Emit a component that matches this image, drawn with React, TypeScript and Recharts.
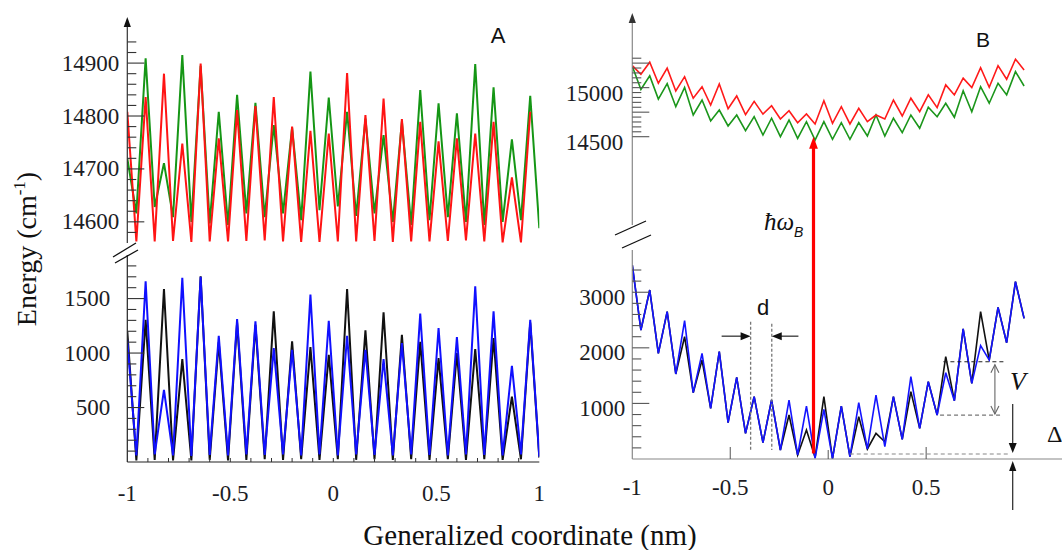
import React from "react";
import { LineChart, Line, XAxis, YAxis } from "recharts";

// generalized coordinate (nm), same grid in both panels
const coord = [
  -1, -0.956, -0.911, -0.867, -0.822, -0.778, -0.733, -0.689, -0.644, -0.6,
  -0.556, -0.511, -0.467, -0.422, -0.378, -0.333, -0.289, -0.244, -0.2, -0.156,
  -0.111, -0.067, -0.022, 0.022, 0.067, 0.111, 0.156, 0.2, 0.244, 0.289,
  0.333, 0.378, 0.422, 0.467, 0.511, 0.556, 0.6, 0.644, 0.689, 0.733,
  0.778, 0.822, 0.867, 0.911, 0.956, 1,
];

// panel A, excited states (cm-1)
const greenA = [
  14720, 14616, 14909, 14628, 14711, 14609, 14915, 14600, 14895, 14597,
  14808, 14594, 14840, 14616, 14825, 14609, 14783, 14616, 14778, 14603,
  14884, 14622, 14835, 14629, 14808, 14611, 14795, 14616, 14764, 14600,
  14790, 14594, 14849, 14603, 14824, 14609, 14805, 14600, 14898, 14594,
  14854, 14600, 14756, 14603, 14838, 14588,
];
const redA = [
  14808, 14563, 14836, 14563, 14880, 14564, 14748, 14562, 14899, 14563,
  14758, 14563, 14811, 14564, 14819, 14565, 14836, 14563, 14780, 14562,
  14772, 14562, 14767, 14563, 14881, 14563, 14802, 14564, 14833, 14562,
  14794, 14563, 14789, 14563, 14752, 14564, 14758, 14565, 14767, 14563,
  14789, 14561, 14684, 14561, 14808, null,
];
// panel A, ground states
const blackA = [
  1200, 15, 1306, 20, 1588, 15, 945, 15, 1705, 20,
  1100, 15, 1280, 20, 1260, 25, 1383, 20, 1107, 25,
  1055, 20, 984, 25, 1588, 20, 1208, 25, 1374, 20,
  1168, 25, 1104, 20, 954, 25, 1000, 20, 1037, 25,
  1138, 20, 601, 25, 1280, 40,
];
const blueA = [
  1122, 60, 1659, 70, 662, 60, 1690, 55, 1700, 65,
  1159, 60, 1312, 70, 1291, 65, 1046, 70, 1030, 60,
  1536, 70, 1297, 60, 1159, 70, 1030, 65, 945, 60,
  1092, 70, 1362, 65, 1230, 60, 1147, 70, 1613, 65,
  1383, 60, 883, 70, 1306, 49,
];

// panel B, excited states
const redB = [
  15224, 15137, 15259, 15045, 15198, 14966, 15112, 14892, 15010, 14823,
  15038, 14785, 14915, 14725, 14860, 14730, 14815, 14680, 14765, 14642,
  14732, 14630, 14867, 14637, 14806, 14630, 14790, 14653, 14721, 14680,
  14874, 14711, 14892, 14755, 14926, 14796, 15028, 14926, 15096, 15000,
  15204, 15004, 15224, 15086, 15290, 15181,
];
const greenB = [
  15219, 14982, 15120, 14883, 15040, 14806, 15002, 14721, 14874, 14661,
  14772, 14609, 14721, 14561, 14704, 14517, 14688, 14500, 14670, 14483,
  14653, 14466, 14653, 14473, 14643, 14473, 14643, 14507, 14721, 14507,
  14688, 14541, 14721, 14586, 14800, 14704, 14841, 14698, 14969, 14755,
  15010, 14841, 15045, 14926, 15163, 15017,
];
// panel B, ground states
const blackB = [
  3489, 2320, 3040, 1901, 2650, 1529, 2200, 1193, 1780, 911,
  1930, 653, 1469, 462, 1121, 293, 1061, 162, 791, 72,
  522, 30, 1121, 5, 953, 42, 761, 180, 462, 311,
  1121, 354, 1211, 552, 1391, 791, 1840, 1049, 2340, 1361,
  2650, 1780, 2728, 2092, 3189, 2530,
];
const blueB = [
  3489, 2320, 3040, 1901, 2650, 1529, 2488, 1193, 1901, 911,
  1930, 653, 1469, 462, 1121, 293, 1061, 162, 1061, 72,
  953, 12, 893, 5, 953, 42, 1013, 180, 1151, 221,
  1121, 354, 1480, 552, 1391, 791, 1552, 1049, 2340, 1361,
  2040, 1780, 2728, 2092, 3189, 2530,
];

// axis ticks
const ticksATop = [14580, 14600, 14620, 14640, 14660, 14680, 14700, 14720, 14740, 14760, 14780, 14800, 14820, 14840, 14860, 14880, 14900, 14920, 14940];
const ticksABot = [100, 200, 300, 400, 500, 600, 700, 800, 900, 1000, 1100, 1200, 1300, 1400, 1500, 1600, 1700, 1800];
const ticksBTop = [14500, 14550, 14600, 14650, 14700, 14750, 14800, 14850, 14900, 14950, 15000, 15050, 15100, 15150, 15200, 15250, 15300];
const ticksBBot = [200, 400, 600, 800, 1000, 1200, 1400, 1600, 1800, 2000, 2200, 2400, 2600, 2800, 3000, 3200, 3400];
const ticksXA = [-1, -0.9, -0.8, -0.7, -0.6, -0.5, -0.4, -0.3, -0.2, -0.1, 0, 0.1, 0.2, 0.3, 0.4, 0.5, 0.6, 0.7, 0.8, 0.9, 1];
const ticksXB = [-1, -0.5, 0, 0.5];
const labelsXA = [-1, -0.5, 0, 0.5, 1];

const W = 1062;
const H = 550;
const SERIF = "'Liberation Serif', 'Times New Roman', serif";
const SANS = "'Liberation Sans', Arial, sans-serif";

// plot boxes (pixels) and their domains
const AX = { x0: 127.3, x1: 539.3, dom: [-1, 1] };
const ATOP = { y0: 25, y1: 243, dom: [14560, 14972] };
const ABOT = { y0: 255, y1: 462, dom: [0, 1900] };
const BX = { x0: 632.3, x1: 1062, dom: [-1, 1.1935] };
const BTOP = { y0: 17, y1: 225, dom: [13600, 15720] };
const BBOT = { y0: 250, y1: 459, dom: [0, 3760] };

const px = (b: any, v: number) => b.x0 + ((v - b.dom[0]) / (b.dom[1] - b.dom[0])) * (b.x1 - b.x0);
const py = (b: any, v: number) => b.y1 - ((v - b.dom[0]) / (b.dom[1] - b.dom[0])) * (b.y1 - b.y0);

function yTick(major: number[], labels: number[], gap: number, dy: number, color: string) {
  return (p: any) => {
    const v = p.payload.value;
    const big = major.includes(v);
    return (
      <g>
        <line x1={p.x} y1={p.y} x2={p.x + (big ? 17 : 9)} y2={p.y} stroke={color} strokeWidth={1.1} />
        {labels.includes(v) ? (
          <text x={p.x - gap} y={p.y + dy} textAnchor="end" dominantBaseline="central" fontFamily={SERIF} fontSize={23} fill="#1c1c24">
            {v}
          </text>
        ) : null}
      </g>
    );
  };
}

const xTickA = (p: any) => {
  const v = p.payload.value;
  return (
    <g>
      {Math.abs(v) < 1 ? <line x1={p.x} x2={p.x} y1={p.y} y2={p.y - 4} stroke="#333" strokeWidth={1} /> : null}
      {labelsXA.includes(v) ? (
        <text x={p.x} y={p.y + 31} textAnchor="middle" dominantBaseline="central" fontFamily={SERIF} fontSize={23} fill="#1c1c24">
          {v}
        </text>
      ) : null}
    </g>
  );
};

const xTickB = (p: any) => {
  const v = p.payload.value;
  const len = v === 0 ? 9 : v === -1 ? 0 : 12;
  return (
    <g>
      {len ? <line x1={p.x} x2={p.x} y1={p.y} y2={p.y - len} stroke="#555" strokeWidth={1} /> : null}
      <text x={p.x} y={p.y + 28} textAnchor="middle" dominantBaseline="central" fontFamily={SERIF} fontSize={23} fill="#1c1c24">
        {v}
      </text>
    </g>
  );
};

// one plot part; axes get 1px of room so recharts draws them
function Part({ xb, yb, s1, s2, c1, c2, w, ticks, tick, axisColor, xTicks, xTick }: any) {
  const data = coord.map((x, i) => ({ x, a: s1[i], b: s2[i] }));
  const xh = xTick ? 1 : 0;
  return (
    <div style={{ position: "absolute", left: 0, top: 0 }}>
      <LineChart
        width={W}
        height={H}
        data={data}
        margin={{ left: xb.x0 - 1, right: W - xb.x1, top: yb.y0, bottom: H - yb.y1 - xh }}
      >
        <XAxis
          type="number"
          dataKey="x"
          domain={xb.dom}
          allowDataOverflow
          hide={!xTick}
          height={1}
          ticks={xTicks}
          interval={0}
          tickSize={0}
          tickMargin={0}
          tickLine={false}
          axisLine={{ stroke: axisColor, strokeWidth: 1.2 }}
          tick={xTick}
        />
        <YAxis
          type="number"
          domain={yb.dom}
          allowDataOverflow
          width={1}
          ticks={ticks}
          interval={0}
          tickSize={0}
          tickMargin={0}
          tickLine={false}
          axisLine={{ stroke: axisColor, strokeWidth: 1.2 }}
          tick={tick}
        />
        <Line type="linear" dataKey="a" stroke={c1} strokeWidth={w} dot={false} isAnimationActive={false} />
        <Line type="linear" dataKey="b" stroke={c2} strokeWidth={w} dot={false} isAnimationActive={false} />
      </LineChart>
    </div>
  );
}

const upHead = (x: number, y: number, s = 1) => `${x},${y} ${x - 4 * s},${y + 11 * s} ${x + 4 * s},${y + 11 * s}`;
const downHead = (x: number, y: number) => `${x},${y} ${x - 4},${y - 10} ${x + 4},${y - 10}`;

function Notes() {
  const ax = AX.x0;
  const bx = BX.x0;
  // red excitation arrow
  const rx = px(BX, -0.075);
  const rTop = py(BTOP, 14500);
  const rBot = py(BBOT, 100);
  // d markers
  const d1 = px(BX, -0.396);
  const d2 = px(BX, -0.288);
  const dTop = py(BBOT, 2470);
  const dBot = py(BBOT, 160);
  const dY = py(BBOT, 2210);
  // V markers
  const vUp = py(BBOT, 1750);
  const vLo = py(BBOT, 790);
  const vx = px(BX, 0.851);
  // Delta markers
  const dl = py(BBOT, 90);
  const gx = px(BX, 0.942);
  return (
    <svg width={W} height={H} style={{ position: "absolute", left: 0, top: 0 }}>
      {/* axis arrows */}
      <polygon points={upHead(ax, 17, 0.9)} fill="#111" />
      <polygon points={upHead(bx, 13, 0.9)} fill="#333" />
      {/* axis breaks */}
      <line x1={113} y1={257} x2={136} y2={243} stroke="#111" strokeWidth={1.3} />
      <line x1={115} y1={263} x2={138} y2={250} stroke="#111" strokeWidth={1.3} />
      <line x1={615} y1={235} x2={646} y2={221} stroke="#111" strokeWidth={1.3} />
      <line x1={622} y1={248} x2={651} y2={235} stroke="#111" strokeWidth={1.3} />

      {/* titles */}
      <text transform="translate(36,249) rotate(-90)" textAnchor="middle" fontFamily={SERIF} fontSize={28} fill="#111">
        Energy (cm<tspan dy={-11} fontSize={17}>-1</tspan><tspan dy={11}>)</tspan>
      </text>
      <text x={530} y={545} textAnchor="middle" fontFamily={SERIF} fontSize={29} fill="#111">
        Generalized coordinate (nm)
      </text>
      <text x={498} y={43} textAnchor="middle" fontFamily={SANS} fontSize={22} fill="#111">A</text>
      <text x={983} y={47} textAnchor="middle" fontFamily={SANS} fontSize={21} fill="#111">B</text>

      {/* excitation arrow */}
      <line x1={rx} x2={rx} y1={rBot} y2={rTop + 9} stroke="#ff0000" strokeWidth={3.2} />
      <polygon points={upHead(rx, rTop, 1.1)} fill="#ff0000" />
      <text x={764} y={230} fontFamily={SERIF} fontStyle="italic" fontSize={25} fill="#111">ħω</text>
      <text x={794} y={237} fontFamily={SANS} fontStyle="italic" fontSize={14} fill="#111">B</text>

      {/* d */}
      <line x1={d1} x2={d1} y1={dTop} y2={dBot} stroke="#777" strokeWidth={1.3} strokeDasharray="3 2" />
      <line x1={d2} x2={d2} y1={dTop + 2} y2={dBot} stroke="#777" strokeWidth={1.3} strokeDasharray="3 2" />
      <line x1={px(BX, -0.544)} x2={d1 - 8} y1={dY} y2={dY} stroke="#111" strokeWidth={1.1} />
      <polygon points={`${d1},${dY} ${d1 - 10},${dY - 4} ${d1 - 10},${dY + 4}`} fill="#111" />
      <line x1={px(BX, -0.152)} x2={d2 + 8} y1={dY} y2={dY} stroke="#111" strokeWidth={1.1} />
      <polygon points={`${d2},${dY} ${d2 + 10},${dY - 4} ${d2 + 10},${dY + 4}`} fill="#111" />
      <text x={763} y={315} textAnchor="middle" fontFamily={SANS} fontSize={22} fill="#111">d</text>

      {/* V */}
      <line x1={px(BX, 0.588)} x2={px(BX, 0.902)} y1={vUp} y2={vUp} stroke="#222" strokeWidth={1.1} strokeDasharray="4 3" />
      <line x1={px(BX, 0.571)} x2={px(BX, 0.892)} y1={vLo} y2={vLo} stroke="#777" strokeWidth={1.1} strokeDasharray="4 3" />
      <line x1={vx} x2={vx} y1={vUp + 3} y2={vLo - 1} stroke="#666" strokeWidth={1.1} />
      <path d={`M${vx - 4},${vUp + 11} L${vx},${vUp + 3} L${vx + 4},${vUp + 11}`} fill="none" stroke="#666" strokeWidth={1.1} />
      <path d={`M${vx - 4},${vLo - 9} L${vx},${vLo - 1} L${vx + 4},${vLo - 9}`} fill="none" stroke="#666" strokeWidth={1.1} />
      <text x={1018} y={390} textAnchor="middle" fontFamily={SERIF} fontStyle="italic" fontSize={26} fill="#111">V</text>

      {/* Delta */}
      <line x1={px(BX, 0.11)} x2={px(BX, 0.928)} y1={dl} y2={dl} stroke="#888" strokeWidth={1.1} strokeDasharray="4 3" />
      <line x1={gx} x2={gx} y1={py(BBOT, 990)} y2={dl - 8} stroke="#111" strokeWidth={1.1} />
      <polygon points={downHead(gx, dl - 1)} fill="#111" />
      <line x1={gx} x2={gx} y1={BBOT.y1 + 51} y2={BBOT.y1 + 10} stroke="#111" strokeWidth={1.1} />
      <polygon points={upHead(gx, BBOT.y1 + 2, 0.9)} fill="#111" />
      <text x={1047} y={442} fontFamily={SERIF} fontSize={24} fill="#111">Δ</text>
    </svg>
  );
}

export default function App() {
  return (
    <div style={{ position: "absolute", left: 0, top: 0, width: W, height: H, background: "#fff", overflow: "hidden" }}>
      <Part xb={AX} yb={ATOP} s1={greenA} s2={redA} c1="#159615" c2="#ff1414" w={2}
        ticks={ticksATop} tick={yTick([14600, 14700, 14800, 14900], [14600, 14700, 14800, 14900], 8, 0, "#333")} axisColor="#333" />
      <Part xb={AX} yb={ABOT} s1={blackA} s2={blueA} c1="#111" c2="#1010ff" w={2}
        ticks={ticksABot} tick={yTick([500, 1000, 1500], [500, 1000, 1500], 17, 0, "#333")} axisColor="#222"
        xTicks={ticksXA} xTick={xTickA} />
      <Part xb={BX} yb={BTOP} s1={greenB} s2={redB} c1="#1b961b" c2="#ff1a1a" w={1.6}
        ticks={ticksBTop} tick={yTick([14500, 14750, 15000, 15250], [14500, 15000], 9, 6, "#555")} axisColor="#888" />
      <Part xb={BX} yb={BBOT} s1={blackB} s2={blueB} c1="#111" c2="#1414ff" w={1.6}
        ticks={ticksBBot} tick={yTick([1000, 2000, 3000], [1000, 2000, 3000], 7, 5, "#555")} axisColor="#888"
        xTicks={ticksXB} xTick={xTickB} />
      <Notes />
    </div>
  );
}
